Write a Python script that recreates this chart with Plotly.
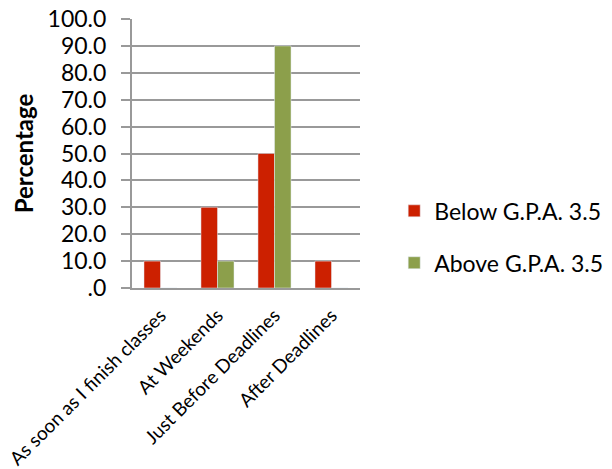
import plotly.graph_objects as go

categories = ["As soon as I finish classes", "At Weekends", "Just Before Deadlines", "After Deadlines"]
below = [10, 30, 50, 10]
above = [0, 10, 90, 0]
series_names = ["Below G.P.A. 3.5", "Above G.P.A. 3.5"]
y_ticks = [0, 10, 20, 30, 40, 50, 60, 70, 80, 90, 100]
y_tick_labels = [".0", "10.0", "20.0", "30.0", "40.0", "50.0", "60.0", "70.0", "80.0", "90.0", "100.0"]

FONT = "Lato"
fig = go.Figure()
fig.add_trace(go.Bar(x=categories, y=below, name=series_names[0], legendgroup="a",
                     marker=dict(color="#CC2000")))
fig.add_trace(go.Bar(x=categories, y=above, name=series_names[1], legendgroup="b",
                     marker=dict(color="#8C9F4B")))

fig.update_layout(
    width=612, height=469,
    margin=dict(l=132, r=252, t=19, b=181, autoexpand=False),
    paper_bgcolor="white", plot_bgcolor="white",
    font=dict(family=FONT, size=22, color="black"),
    barmode="group", bargap=0.42, bargroupgap=0,
    legend=dict(x=1.15, y=0.19, xanchor="left", yanchor="middle",
                font=dict(family=FONT, size=23), tracegroupgap=19, itemwidth=30),
)
fig.update_xaxes(
    tickangle=-45, showgrid=False, showline=True, linecolor="#999999", linewidth=2,
    ticks="", tickfont=dict(family=FONT, size=19), automargin=False, ticklabelstandoff=7,
)
fig.update_yaxes(
    range=[0, 100], tickvals=y_ticks, ticktext=y_tick_labels,
    showgrid=True, gridcolor="#999999", gridwidth=2,
    showline=True, linecolor="#999999", linewidth=2,
    ticks="outside", ticklen=9, tickcolor="#999999", tickwidth=2,
    tickfont=dict(family=FONT, size=23), zeroline=False, automargin=False,
    ticklabelstandoff=10,
    title=dict(text="<b>Percentage</b>", font=dict(family=FONT, size=24), standoff=7),
)
fig.write_html("out.html", config={"displayModeBar": False},
               post_script="document.body.style.margin='0px';")
